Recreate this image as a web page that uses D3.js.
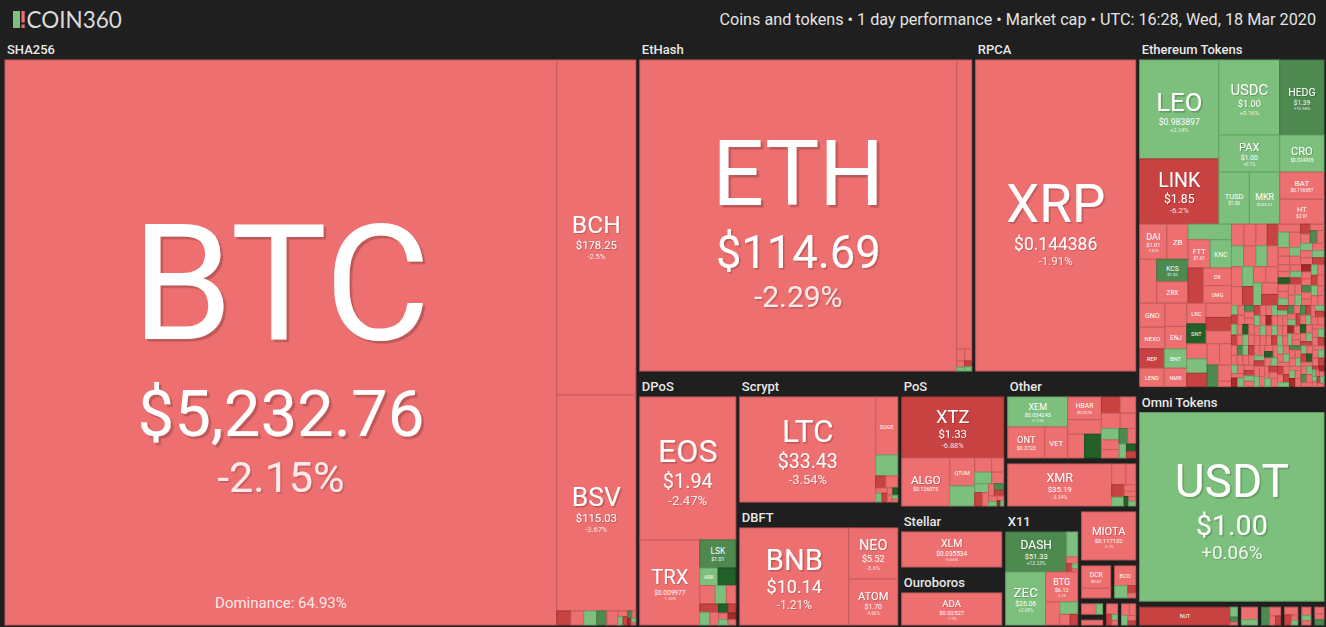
<!DOCTYPE html>
<html>
<head>
<meta charset="utf-8">
<script src="https://cdn.jsdelivr.net/npm/d3@7/dist/d3.min.js"></script>
<style>
  html, body { margin:0; padding:0; background:#1e1f1e; overflow:hidden; }
  svg { display:block; }
</style>
</head>
<body>
<svg id="chart" width="1326" height="627"></svg>
<script>
const titleText = "Coins and tokens \u2022 1 day performance \u2022 Market cap \u2022 UTC: 16:28, Wed, 18 Mar 2020";
const brandName = "COIN360";
const dominanceText = "Dominance: 64.93%";

// rows: [symbol, size weight, price, 1-day change %]
const sha256Coins = [
  ["BTC",3283.0,"$5,232.76",-2.15],["BCH",278.6,"$178.25",-2.5],["BSV",179.6,"$115.03",-3.67],
  ["EMC",2.06,"",-7.4],["NMC",1.92,"",-2.1],["PPC",1.92,"",3.2],["CRW",1.47,"",11.5],["UNO",1.62,"",-1.3],
  ["TRC",0.6,"",-3.0],["XJO",0.45,"",2.1],["DVC",0.4,"",-6.2],["ZET",0.35,"",14.0],["CURE",0.3,"",-1.7],
  ["ACOIN",0.25,"",-22.0],["BTCS",0.2,"",4.4],["MOON",0.1,"",-2.3]
];
const ethashCoins = [
  ["ETH",1081.2,"$114.69",-2.29],["ETC",47.5,"$4.39",-3.1],["ETP",1.05,"",-2.6],["UBQ",0.92,"",-1.4],
  ["EXP",0.55,"",-4.0],["PIRL",0.33,"",3.5],["ETHO",0.45,"",-8.0],["CLO",0.32,"",2.2]
];
const rpcaCoins = [["XRP",552.7,"$0.144386",-1.91]];
const dposCoins = [
  ["EOS",159.3,"$1.94",-2.47],["TRX",59.2,"$0.009977",-1.33],["LSK",11.7,"$1.01",12.6],
  ["ARK",3.76,"",4.1],["BTS",3.62,"",24.5],["NULS",3.25,"",-2.7],["GXC",2.4,"",3.3],["TLOS",2.0,"",-1.9],
  ["FIO",1.8,"",-7.7],["SBD",1.5,"",6.2],["XWC",1.3,"",-3.4],["WICC",1.0,"",21.0],["SEELE",0.8,"",-12.0],
  ["RISE",0.7,"",-2.2],["SMART",0.6,"",3.9],["XSN",0.6,"",-16.5],["SHIFT",0.47,"",-1.8]
];
const scryptCoins = [
  ["LTC",182.67,"$33.43",-3.54],["DOGE",16.32,"$0.001557",-3.1],["MONA",5.91,"$1.04",2.9],
  ["EMC2",1.53,"",-7.6],["FTC",1.84,"",-2.0],["NLG",0.8,"",-3.3],["VIA",0.7,"",4.1],["POT",0.6,"",-11.0],
  ["XMY",0.5,"",-1.5],["PND",0.45,"",25.0],["CANN",0.4,"",-4.4],["ARG",0.3,"",3.0],["DOPE",0.2,"",-2.0]
];
const dbftCoins = [["BNB",137.46,"$10.14",-1.21],["NEO",32.49,"$5.52",-3.6],["ATOM",29.31,"$1.70",-4.66]];
const posCoins = [
  ["XTZ",80.08,"$1.33",-6.88],["ALGO",29.65,"$0.126075",-1.6],["QTUM",9.01,"$1.01",-2.1],["WAVES",6.44,"$0.648",3.7],
  ["STRAT",3.09,"",-2.2],["NAV",2.5,"",2.9],["PIVX",2.2,"",-3.5],["NXT",1.8,"",-1.2],["NEBL",1.6,"",4.4],
  ["BLK",1.3,"",-8.1],["REDD",1.1,"",-2.7],["PART",0.9,"",-4.0],["GRC",0.8,"",16.0],["IOC",0.7,"",-13.0],
  ["BAY",0.6,"",-2.5],["LBC",0.5,"",3.1],["XAS",0.4,"",-1.1],["OK",0.23,"",-22.0],["SLS",0.2,"",2.0]
];
const otherCoins = [
  ["XEM",26.47,"$0.034245",1.53],["ONT",16.87,"$0.3723",-3.3],["VET",10.49,"$0.00317",-2.8],
  ["HBAR",11.16,"$0.0276",-2.6],["ICX",7.28,"$0.1066",-3.9],["RVN",5.88,"$0.0125",-2.4],["STEEM",5.88,"$0.1544",22.6],
  ["DGB",4.41,"",-6.4],["BTM",4.24,"",-2.0],["ZIL",3.71,"",-3.4],["KMD",3.5,"",-1.8],["NANO",3.0,"",2.3],
  ["HC",2.5,"",-2.9],["SC",2.2,"",-4.1],["XVG",2.0,"",16.0],["ARDR",1.8,"",-1.0],["WAN",1.5,"",3.6],
  ["ELA",1.0,"",25.0],["AE",0.9,"",-9.0]
];
const cryptonightCoins = [
  ["XMR",51.48,"$35.19",-3.34],["BCN",3.5,"",-2.6],["ETN",2.4,"",-3.8],["XHV",1.8,"",-9.5],["LOKI",1.3,"",3.1],
  ["AEON",0.9,"",-1.9],["TRTL",0.7,"",-4.2],["XWP",0.5,"",21.0],["MSR",0.4,"",-2.2],["GRFT",0.38,"",1.8]
];
const stellarCoins = [["XLM",63.44,"$0.035534",-0.66]];
const ouroborosCoins = [["ADA",60.32,"$0.02527",-1.9]];
const x11Coins = [
  ["DASH",32.96,"$51.33",13.23],["ZEN",3.71,"",4.2],["ZCL",1.0,"",-3.0],["BTCZ",0.6,"",-8.0],["ZER",0.4,"",2.0],
  ["VOT",0.23,"",-1.5],["ZEC",28.64,"$26.06",2.68],["BTG",12.97,"$6.12",-2.2],["BTCP",4.35,"",-3.1],
  ["SAFE",3.0,"",4.5],["XSG",1.5,"",-2.0],["GBX",1.09,"",-14.0]
];
const tangleCoins = [["MIOTA",31.32,"$0.117132",-3.1]];
const blake256Coins = [["DCR",8.74,"$9.67",-2.4],["XPC",3.8,"",-1.6]];
const x13Coins = [["BCD",5.89,"$0.4135",-2.9],["STAK",2.28,"",3.3],["XLR",0.8,"",-6.0],["BSD",0.53,"",-2.0]];
const lyra2Coins = [["VTC",2.8,"",-2.7],["MONK",1.25,"",3.9]];
const groestlCoins = [["GRS",2.7,"",-1.9]];
const neoscryptCoins = [["UFO",2.0,"",-3.3],["TZC",1.0,"",-8.5],["CRC",0.6,"",4.0],["IDC",0.45,"",-2.0]];
const quarkCoins = [["QRK",1.5,"",-2.2],["ECC",1.2,"",-3.9],["DIME",1.0,"",2.4],["XQN",0.7,"",-1.1],["BITS",0.5,"",-10.2]];

const ethTokensMajor = [
  ["LEO",86.5,"$0.983897",2.24],["LINK",57.0,"$1.85",-6.2],["USDC",50.4,"$1.00",0.16],["HEDG",36.6,"$1.39",10.98],
  ["PAX",24.9,"$1.00",0.1],["TUSD",17.5,"$1.00",0.07],["MKR",17.5,"$233.21",1.12],["CRO",18.1,"$0.024995",1.53],
  ["BAT",13.2,"$0.116987",-4.1],["HT",12.2,"$2.91",-4.14]
];
const ethTokensMid = [
  ["DAI",10.55,"$1.01",-0.82],["ZB",8.2,"$0.1857",-2.3],["IHT",8.3,"$0.0068",-3.0],["KCS",7.74,"$1.02",12.1],
  ["ZRX",7.4,"$0.1402",-3.2],["SXP",7.47,"$0.5721",3.1],["FTT",6.92,"$1.61",-2.7],["KNC",6.61,"$0.5166",2.4],
  ["SNX",5.86,"$0.6812",-8.4],["DX",5.47,"$0.0011",-3.6],["OMG",5.47,"$0.4855",-2.1]
];
const ethTokensLower = [
  ["GNO",6.7,"",-2.5],["NEXO",6.1,"",-1.6],["MANA",5.6,"",-3.4],["ENJ",5.4,"",-2.9],["REP",5.2,"",-7.1],
  ["LEND",5.0,"",-1.1],["BNT",4.8,"",3.6],["NMR",4.6,"",-4.2],["LRC",4.4,"",-2.0],["SNT",4.2,"",22.5],
  ["STORJ",4.0,"",-3.1],["POLY",3.8,"",-9.3],["MCO",3.6,"",-1.7],["CVC",3.4,"",-2.6],["RLC",3.2,"",4.4],
  ["ANT",3.0,"",-6.6],["REN",2.9,"",-2.4],["GNT",2.8,"",-3.9],["ELF",2.6,"",11.2],["QNT",2.4,"",-1.5],["SAN",0.8,"",-2.8]
];
const ethTokensSmall = [
  ["MATIC",3.0,"",-2.8],["AOA",2.9,"",-4.1],["BTMX",2.8,"",3.2],["NPXS",2.8,"",-1.9],["WTC",2.7,"",-3.6],
  ["MXC",2.6,"",-7.2],["AMPL",2.6,"",4.8],["TEL",2.5,"",-2.2],["CHZ",2.4,"",-0.9],["HOT",2.4,"",1.7],
  ["ENG",2.3,"",-3.3],["POWR",2.3,"",-5.6],["REQ",2.2,"",-1.4],["FUN",2.2,"",-2.6],["DENT",2.1,"",6.1],
  ["KEY",2.1,"",-3.9],["PAY",2.0,"",-8.3],["QSP",2.0,"",-2.0],["TNT",1.9,"",2.5],["RCN",1.9,"",-1.2]
];
const ethTinySizesA = [
  1.1,1.08,1.06,1.05,1.03,1.0,0.99,0.98,0.96,0.95, 0.94,0.92,0.91,0.9,0.88,0.87,0.86,0.85,0.84,0.83,
  0.82,0.81,0.8,0.8,0.79,0.78,0.77,0.76,0.76,0.75, 0.74,0.74,0.73,0.72,0.72,0.71,0.71,0.7,0.7,0.7
];
const ethTinyChangesA = [
  -3.2,-2.1,4.5,-1.4,-6.8,-2.9,-0.7,12.4,-3.6,2.2, -4.8,-1.9,-2.5,3.7,-9.1,-1.2,-3.3,22.0,-2.7,1.4,
  -5.5,-2.2,-1.6,6.3,-3.9,-0.4,-2.8,2.9,-17.5,-1.1, -2.4,4.1,-3.7,-6.2,-1.8,14.2,-2.6,-0.9,3.3,-4.4
];
const ethTinySizesB = [
  0.69,0.67,0.68,0.70,0.66,0.68,0.69,0.67,0.68,0.68, 0.67,0.65,0.66,0.68,0.64,0.66,0.67,0.65,0.66,0.66,
  0.65,0.63,0.64,0.66,0.62,0.64,0.65,0.63,0.64,0.64, 0.63,0.61,0.62,0.64,0.60,0.62,0.63,0.61,0.62,0.62,
  0.61,0.59,0.60,0.62,0.58,0.60,0.61,0.59,0.60,0.60, 0.60,0.58,0.59,0.61,0.57,0.59,0.60,0.58,0.59,0.59,
  0.59,0.57,0.58,0.60,0.56,0.58,0.59,0.57,0.58,0.58, 0.58,0.56,0.57,0.59,0.55,0.57,0.58,0.56,0.57,0.57,
  0.57,0.55,0.56,0.58,0.54,0.56,0.57,0.55,0.56,0.56, 0.56,0.54,0.55,0.57,0.53,0.55,0.56,0.54,0.55,0.55,
  0.55,0.53,0.54,0.56,0.52,0.54,0.55,0.53,0.54,0.54, 0.54,0.52,0.53,0.55,0.51,0.53,0.54,0.52,0.53,0.53,
  0.53,0.51,0.52,0.54,0.50,0.52,0.53,0.51,0.52,0.52, 0.52,0.50,0.51,0.53,0.49,0.51,0.52,0.50,0.51,0.51,
  0.27,0.25,0.26,0.28,0.24,0.26,0.27,0.25,0.26,0.26
];
const ethTinyChangesB = [
  -2.3,-4.1,3.2,-1.2,-7.3,-2.8,11.6,-0.6,-3.4,2.4, -1.7,-5.2,-2.6,21.3,-3.1,1.9,-0.8,-8.9,-2.2,4.6,
  -3.8,-1.3,2.7,-16.2,-2.5,-4.7,6.8,-1.9,-0.5,-3.2, 3.5,-2.9,-6.1,-1.4,13.7,-2.1,-3.6,1.2,-9.8,-2.4,
  -0.9,4.2,-3.3,-1.6,-24.5,2.1,-2.7,-5.4,8.9,-1.1, -3.9,-2.2,1.6,-7.7,-1.5,26.1,-3.0,-2.6,3.8,-0.7,
  -4.6,2.8,-1.8,-3.5,-11.4,-2.0,5.7,-1.3,-6.5,1.1, -2.8,-0.8,15.3,-3.7,-1.9,2.6,-8.2,-2.3,-4.3,3.9,
  -1.0,-19.6,-2.9,4.8,-3.4,-1.7,12.1,-5.9,-2.1,1.5, -3.1,2.3,-6.9,-1.2,-2.6,30.4,-4.0,-0.6,3.1,-13.3,
  -2.0,-3.8,1.8,-1.4,-7.1,9.6,-2.5,-4.9,2.5,-1.8, 17.7,-2.7,-3.2,-0.9,4.4,-10.6,-2.2,-1.5,-5.1,2.0,
  -3.5,6.1,-1.9,-28.3,-2.4,1.3,-3.9,-6.6,23.8,-1.0, -2.1,-4.4,3.6,-1.6,-8.7,-2.9,1.7,14.9,-3.3,-0.8,
  -5.8,2.7,-1.3,-20.1,-2.6,3.4,-4.2,-9.3,7.2,-1.7
];
const omniTokens = [["USDT",404.2,"$1.00",0.06]];
const nep5Tokens = [["NUT",22.5,"$24.79",-6.5],["GAS",0.97,"",2.1],["DBC",0.48,"",12.5],["SWTH",0.29,"",-3.0]];
const trc10Tokens = [["BTT",3.4,"",-2.2],["WIN",1.4,"",3.5]];
const bep2Tokens = [["RUNE",2.3,"",12.0],["ONE",1.6,"",-2.5],["TWT",0.9,"",-3.2],["AVA",0.72,"",-9.0]];
const wavesTokens = [["WEST",1.8,"",-2.4],["VST",1.2,"",-6.8],["SIGN",0.6,"",-2.9],["BTCN",0.48,"",3.0]];
const trc20Tokens = [["USDJ",1.5,"",-3.5],["JST",0.9,"",5.0],["SUNC",0.72,"",-2.0]];
const eosTokens = [["IQ",1.2,"",-4.0],["DAPP",1.0,"",-2.2],["KARMA",0.92,"",14.0]];

const coinGroups = [
  ["SHA256", sha256Coins], ["EtHash", ethashCoins], ["RPCA", rpcaCoins], ["DPoS", dposCoins],
  ["Scrypt", scryptCoins], ["DBFT", dbftCoins], ["PoS", posCoins], ["Other", otherCoins],
  ["CryptoNight", cryptonightCoins], ["Stellar", stellarCoins], ["Ouroboros", ouroborosCoins], ["X11", x11Coins],
  ["Tangle", tangleCoins], ["Blake256", blake256Coins], ["X13", x13Coins], ["Lyra2REv3", lyra2Coins],
  ["Groestl", groestlCoins], ["NeoScrypt", neoscryptCoins], ["Quark", quarkCoins]
];

// ---------- build hierarchy ----------
const toLeaf = r => ({sym:r[0], size:r[1], price:r[2], change:r[3]});
const toTiny = (sizes, changes) => sizes.map((s,i) => ({sym:"", size:s, price:"", change:changes[i]}));
const ethLeaves = [...ethTokensMajor, ...ethTokensMid, ...ethTokensLower, ...ethTokensSmall].map(toLeaf)
  .concat(toTiny(ethTinySizesA, ethTinyChangesA), toTiny(ethTinySizesB, ethTinyChangesB));
const tokenGroups = [
  {name:"Ethereum Tokens", children: ethLeaves},
  {name:"Omni Tokens", children: omniTokens.map(toLeaf)},
  {name:"NEP-5 Tokens", children: nep5Tokens.map(toLeaf)},
  {name:"TRC-10 Tokens", children: trc10Tokens.map(toLeaf)},
  {name:"BEP-2 Tokens", children: bep2Tokens.map(toLeaf)},
  {name:"Waves Tokens", children: wavesTokens.map(toLeaf)},
  {name:"TRC-20 Tokens", children: trc20Tokens.map(toLeaf)},
  {name:"EOS Tokens", children: eosTokens.map(toLeaf)}
];
const rootData = {name:"all", children:[
  {name:"Coins", children: coinGroups.map(([n, arr]) => ({name:n, children: arr.map(toLeaf)}))},
  {name:"Tokens", children: tokenGroups}
]};

const W = 1326, H = 627, X0 = 3, Y0 = 36;
const showLabel = d => (d.x1 - d.x0) >= 70 && (d.y1 - d.y0) >= 52;

const root = d3.hierarchy(rootData).sum(d => d.children ? 0 : d.size);
d3.treemap()
  .tile(d3.treemapBinary)
  .size([W - X0, H - Y0])
  .paddingInner(0)
  .paddingTop(d => d.depth === 2 ? (showLabel(d) ? 24 : 4) : 0)
  .paddingLeft(d => d.depth === 2 ? 2 : 0)
  .paddingRight(d => d.depth === 2 ? 2 : 0)
  .paddingBottom(d => d.depth === 2 ? 2 : 0)(root);

const color = d3.scaleThreshold()
  .domain([-15, -5, 0, 10, 20])
  .range(["#a52b2b", "#c94242", "#ed6f6f", "#7dc07d", "#4e8a50", "#22602a"]);

const svg = d3.select("#chart");
const defs = svg.append("defs");
[["shL", 2.6], ["shM", 1.6], ["shS", 0.9]].forEach(([id, o]) => {
  defs.append("filter").attr("id", id).attr("x", "-10%").attr("y", "-20%").attr("width", "130%").attr("height", "150%")
    .append("feDropShadow").attr("dx", o).attr("dy", o).attr("stdDeviation", 0)
    .attr("flood-color", "#000").attr("flood-opacity", 0.2);
});
svg.append("rect").attr("width", W).attr("height", H).attr("fill", "#1e1f1e");

// header
const hdr = svg.append("g");
hdr.append("rect").attr("x", 13).attr("y", 11).attr("width", 7).attr("height", 17).attr("fill", "#7dc07d");
hdr.append("rect").attr("x", 21.5).attr("y", 11).attr("width", 3.2).attr("height", 11.5).attr("fill", "#ee6e6e");
hdr.append("rect").attr("x", 21.5).attr("y", 24.5).attr("width", 3.2).attr("height", 3.5).attr("fill", "#ee6e6e");
hdr.append("text").attr("x", 26.5).attr("y", 27.5).text(brandName)
  .attr("font-family", "Lato, 'Open Sans', sans-serif").attr("font-size", 22.5).attr("fill", "#dadada");
hdr.append("text").attr("x", 1316).attr("y", 25).attr("text-anchor", "end").text(titleText)
  .attr("font-family", "Roboto, sans-serif").attr("font-size", 16.2).attr("fill", "#e4e4e4");

const g = svg.append("g").attr("transform", `translate(${X0},${Y0})`);

// group labels
const groupsNodes = root.descendants().filter(d => d.depth === 2 && showLabel(d));
g.selectAll("text.glabel").data(groupsNodes).join("text")
  .attr("class", "glabel")
  .attr("x", d => d.x0 + 4).attr("y", d => d.y0 + 18)
  .attr("font-family", "Roboto, sans-serif").attr("font-weight", 500).attr("font-size", 13)
  .attr("fill", "#e8e8e8").text(d => d.data.name);

// tiles
const leaves = root.leaves();
g.selectAll("rect.tile").data(leaves).join("rect")
  .attr("class", "tile")
  .attr("x", d => d.x0).attr("y", d => d.y0)
  .attr("width", d => Math.max(0, d.x1 - d.x0)).attr("height", d => Math.max(0, d.y1 - d.y0))
  .attr("fill", d => color(d.data.change))
  .attr("stroke", d => d3.color(color(d.data.change)).darker(0.5))
  .attr("stroke-width", 1);

// tile texts
const ctx = document.createElement("canvas").getContext("2d");
const em = (str, wt) => { ctx.font = `${wt} 100px Roboto`; return ctx.measureText(str).width / 100; };
const pctStr = c => (c > 0 ? "+" : "") + c + "%";
const tg = g.append("g").attr("font-family", "Roboto, sans-serif").attr("text-anchor", "middle");

function addText(x, y, str, fs, wt, fill) {
  const t = tg.append("text").attr("x", x).attr("y", y).attr("font-size", fs).attr("font-weight", wt)
    .attr("fill", fill).text(str);
  if (fs >= 60) t.attr("filter", "url(#shL)");
  else if (fs >= 25) t.attr("filter", "url(#shM)");
  else if (fs >= 9) t.attr("filter", "url(#shS)");
}

leaves.forEach(d => {
  const s = d.data; if (!s.sym) return;
  const w = d.x1 - d.x0, h = d.y1 - d.y0;
  if (w < 18) return;
  const wt = 400;
  const sf = Math.min(0.29 * Math.sqrt(w * h), 0.62 * w / em(s.sym, wt), 0.3 * h);
  if (sf < 5) return;
  const lines = [{str: s.sym, fs: sf, base: 0, fill: "#ffffff"}];
  let top = -0.72 * sf, last = 0, lastFs = sf;
  if (s.price) {
    const pf = Math.min(0.62 * sf, 0.52 * w / em(s.price, wt));
    if (pf >= 4) {
      const b2 = Math.max(1.28 * pf, 0.22 * sf + 0.95 * pf); lines.push({str: s.price, fs: pf, base: b2, fill: "#ffffff"});
      last = b2; lastFs = pf;
      const cf = pf * 0.66;
      if (cf >= 3.5) {
        const b3 = b2 + Math.max(1.3 * cf, 0.22 * pf + 0.95 * cf);
        lines.push({str: pctStr(s.change), fs: cf, base: b3, fill: "rgba(255,255,255,0.85)"});
        last = b3; lastFs = cf;
      }
    }
  }
  const bottom = last + 0.1 * lastFs;
  const cx = (d.x0 + d.x1) / 2, cy = (d.y0 + d.y1) / 2 + 0.03 * h;
  const shift = cy - (top + bottom) / 2;
  lines.forEach(l => addText(cx, l.base + shift, l.str, l.fs, wt, l.fill));
  if (s.sym === "BTC") {
    tg.append("text").attr("x", cx).attr("y", d.y1 - 17).attr("font-size", 15).attr("font-weight", 400)
      .attr("fill", "rgba(255,255,255,0.85)").text(dominanceText);
  }
});
</script>
</body>
</html>
